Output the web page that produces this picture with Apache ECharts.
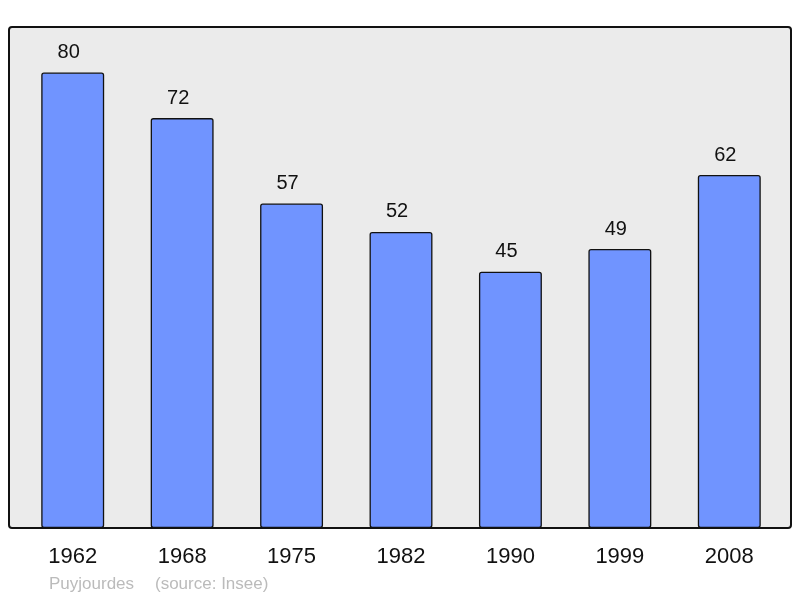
<!DOCTYPE html>
<html><head><meta charset="utf-8">
<script src="https://cdn.jsdelivr.net/npm/echarts@6/dist/echarts.min.js"></script>
<style>html,body{margin:0;padding:0;background:#fff}#c{width:800px;height:598px}</style>
</head><body><div id="c"></div>
<script>
const categories = ['1962','1968','1975','1982','1990','1999','2008'];
const population = [80,72,57,52,45,49,62];
const chart = echarts.init(document.getElementById('c'));
chart.setOption({
  animation:false,
  graphic:[
    {type:'rect',z:-10,shape:{x:9,y:27,width:782,height:501,r:3},style:{fill:'#ebebeb',stroke:'#111',lineWidth:2}},
    {type:'text',left:49,top:576,style:{text:'Puyjourdes',fill:'#bbbbbb',font:'17px "Liberation Sans", Arial, sans-serif'}},
    {type:'text',left:155,top:576,style:{text:'(source: Insee)',fill:'#bbbbbb',font:'17px "Liberation Sans", Arial, sans-serif'}}
  ],
  grid:{left:18,right:16,top:27,bottom:70},
  xAxis:{type:'category',data:categories,
    axisLine:{show:false},axisTick:{show:false},
    axisLabel:{color:'#111',fontSize:22,fontFamily:'Liberation Sans',margin:18}},
  yAxis:{type:'value',min:0,max:88,show:false,splitLine:{show:false}},
  series:[{type:'bar',data:population,barWidth:'57.5%',
    itemStyle:{color:'#7094ff',borderColor:'#111',borderWidth:1.3,borderRadius:2},
    label:{show:true,position:'top',distance:10,offset:[-4,0],color:'#111',fontSize:20,fontFamily:'Liberation Sans'}}]
});
</script></body></html>
